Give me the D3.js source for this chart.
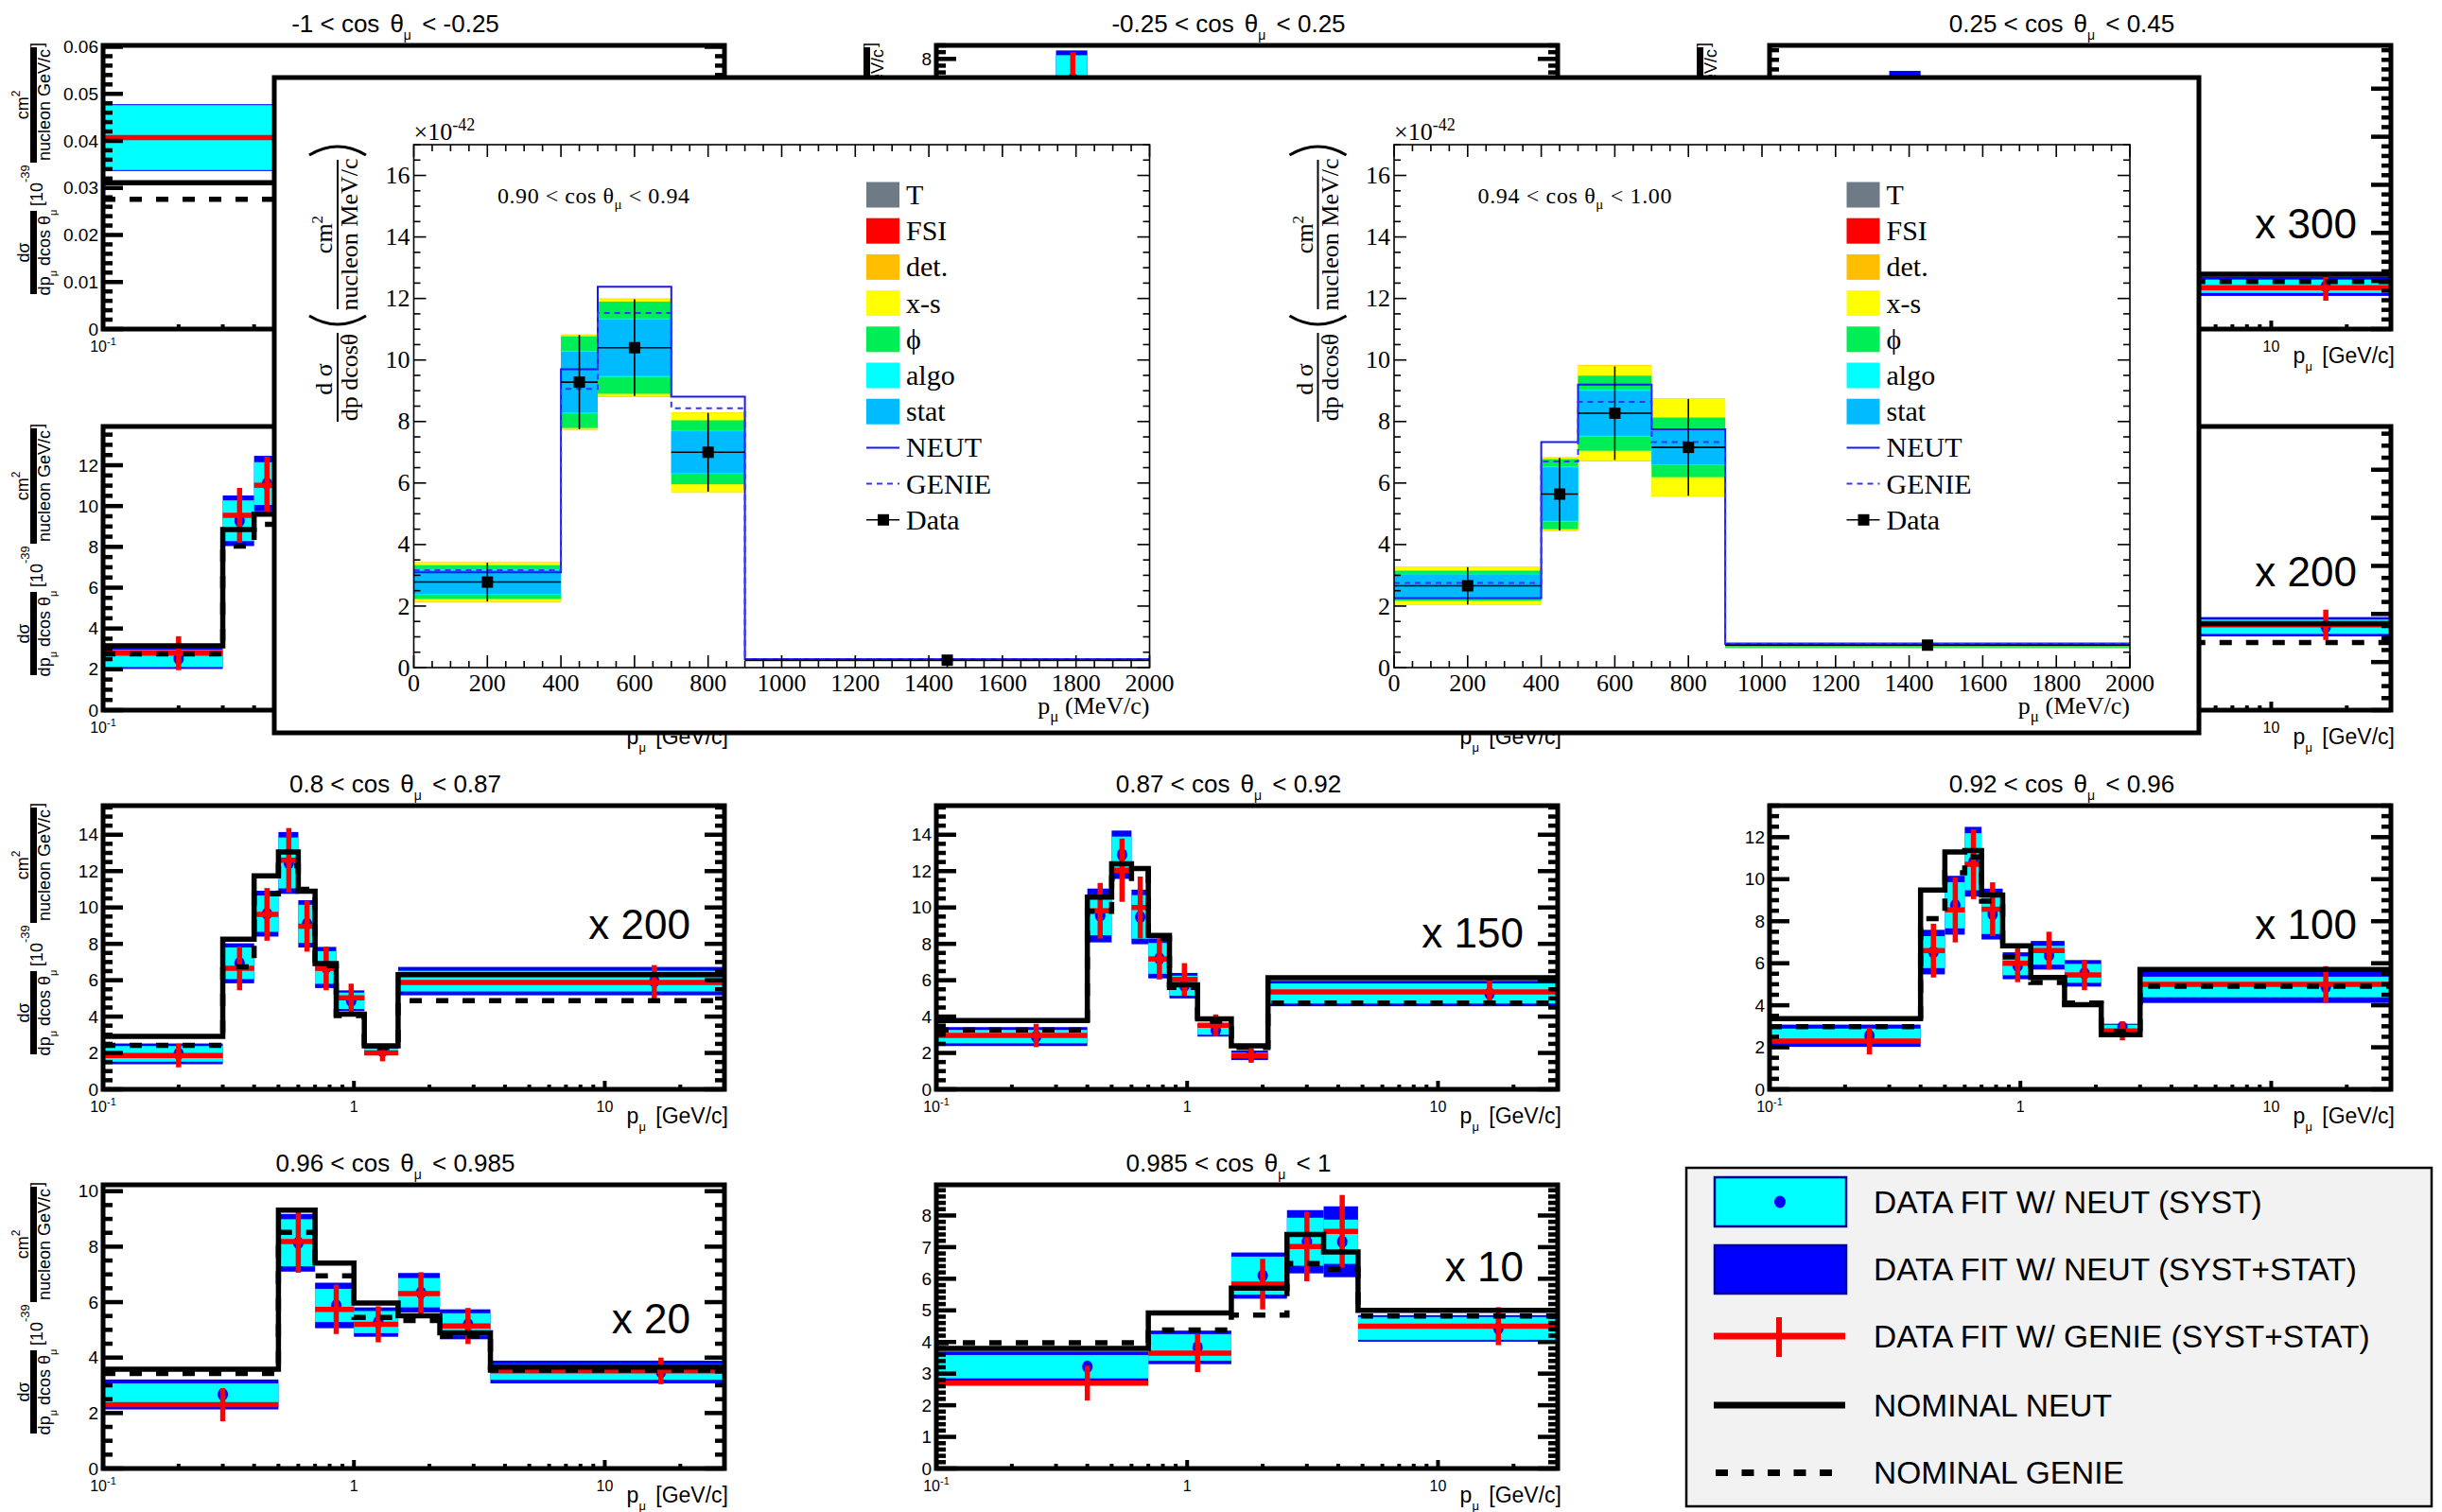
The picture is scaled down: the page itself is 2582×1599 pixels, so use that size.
<!DOCTYPE html>
<html>
<head>
<meta charset="utf-8">
<title>CC0π double-differential cross section</title>
<script src="https://cdn.jsdelivr.net/npm/d3@7"></script>
<style>
  html, body { margin: 0; padding: 0; background: #ffffff; }
  svg { display: block; }
  text { white-space: pre; }
</style>
</head>
<body>
<script>
// ------------------------------------------------------------------
// dσ/dp dcosθ per cos θμ slice, 10^-39 cm^2 / nucleon / (GeV/c),
// already multiplied by the factor printed in each panel.
// Momentum bin edges in GeV/c.
// ------------------------------------------------------------------

// -1 < cos θμ < -0.25
const edgesA = [0.1, 1.0];
const neutA  = [0.0311];
const genieA = [0.0276];
const fitA   = [0.0407];
const systA  = [0.0069];
const totA   = [0.0071];
const gfitA  = [0.0407];
const gerrA  = [0.0075];

// -0.25 < cos θμ < 0.25
const edgesB = [0.3, 0.4];
const neutB  = [null];
const genieB = [null];
const fitB   = [7.4];
const systB  = [0.71];
const totB   = [0.85];
const gfitB  = [7.4];
const gerrB  = [0.8];

// 0.25 < cos θμ < 0.45
const edgesC = [0.3, 0.4, 3.0, 30];
const neutC  = [null, null, 1.14];
const genieC = [null, null, 0.99];
const fitC   = [4.8, null, 0.89];
const systC  = [0.4, null, 0.14];
const totC   = [0.57, null, 0.2];
const gfitC  = [4.7, null, 0.86];
const gerrC  = [0.5, null, 0.27];

// second row, first slice
const edgesD = [0.1, 0.3, 0.4, 0.5];
const neutD  = [3.15, 8.85, 9.6];
const genieD = [2.76, 8.04, 9.1];
const fitD   = [2.53, 9.28, 11.1];
const systD  = [0.42, 1.0, 1.05];
const totD   = [0.51, 1.24, 1.36];
const gfitD  = [2.79, 9.55, 11.02];
const gerrD  = [0.83, 1.34, 1.4];

// second row, middle slice
const edgesE = [], neutE = [], genieE = [], fitE = [], systE = [], totE = [], gfitE = [], gerrE = [];

// second row, last slice
const edgesF = [3.0, 30];
const neutF  = [3.6];
const genieF = [2.81];
const fitF   = [3.47];
const systF  = [0.3];
const totF   = [0.4];
const gfitF  = [3.55];
const gerrF  = [0.63];

// 0.8 < cos θμ < 0.87
const edgesG = [0.1, 0.3, 0.4, 0.5, 0.6, 0.7, 0.85, 1.1, 1.5, 30];
const neutG  = [2.91, 8.26, 11.74, 13.05, 10.9, 6.92, 4.13, 2.39, 6.31];
const genieG = [2.42, 6.74, 10.75, 12.3, 11.0, 6.8, 4.05, 2.3, 4.88];
const fitG   = [1.95, 6.93, 9.66, 12.45, 9.1, 6.7, 4.87, 2.1, 5.95];
const systG  = [0.43, 0.87, 1.0, 1.4, 1.05, 0.9, 0.45, 0.15, 0.57];
const totG   = [0.57, 1.1, 1.26, 1.7, 1.3, 1.13, 0.57, 0.22, 0.78];
const gfitG  = [1.86, 6.65, 9.62, 12.6, 8.97, 6.65, 5.03, 2.0, 5.87];
const gerrG  = [0.65, 1.2, 1.45, 1.77, 1.4, 1.2, 0.78, 0.46, 0.96];

// 0.87 < cos θμ < 0.92
const edgesH = [0.1, 0.4, 0.5, 0.6, 0.7, 0.85, 1.1, 1.5, 2.1, 30];
const neutH  = [3.78, 10.57, 12.4, 12.14, 8.46, 5.75, 3.87, 2.39, 6.13];
const genieH = [3.26, 9.79, 11.6, 12.0, 8.3, 5.6, 3.75, 2.3, 4.74];
const fitH   = [2.9, 9.56, 12.9, 9.48, 7.2, 5.7, 3.25, 1.87, 5.27];
const systH  = [0.37, 1.09, 1.0, 1.2, 0.85, 0.55, 0.25, 0.15, 0.55];
const totH   = [0.52, 1.48, 1.33, 1.5, 1.1, 0.7, 0.35, 0.26, 0.7];
const gfitH  = [2.96, 9.82, 12.05, 10.0, 7.17, 6.04, 3.52, 1.86, 5.35];
const gerrH  = [0.64, 1.53, 1.74, 1.7, 1.13, 0.9, 0.6, 0.4, 0.78];

// 0.92 < cos θμ < 0.96
const edgesI = [0.1, 0.4, 0.5, 0.6, 0.7, 0.85, 1.1, 1.5, 2.1, 3.0, 30];
const neutI  = [3.36, 9.48, 11.29, 11.36, 9.25, 6.83, 5.32, 4.03, 2.6, 5.7];
const genieI = [2.98, 8.12, 10.3, 11.06, 8.95, 6.3, 5.09, 4.11, 2.75, 4.9];
const fitI   = [2.55, 6.53, 8.76, 10.83, 8.34, 5.88, 6.38, 5.52, 2.95, 4.87];
const systI  = [0.34, 0.76, 1.1, 1.36, 0.95, 0.45, 0.45, 0.45, 0.12, 0.49];
const totI   = [0.53, 1.06, 1.4, 1.66, 1.21, 0.64, 0.68, 0.63, 0.17, 0.76];
const gfitI  = [2.3, 6.6, 8.54, 10.71, 8.57, 6.0, 6.6, 5.44, 2.78, 4.99];
const gerrI  = [0.64, 1.28, 1.55, 1.66, 1.28, 0.9, 0.9, 0.72, 0.45, 0.87];

// 0.96 < cos θμ < 0.985
const edgesJ = [0.1, 0.5, 0.7, 1.0, 1.5, 2.2, 3.5, 30];
const neutJ  = [3.58, 9.32, 7.41, 5.97, 5.51, 4.89, 3.66];
const genieJ = [3.43, 8.52, 6.95, 5.45, 5.34, 4.77, 3.55];
const fitJ   = [2.67, 8.14, 5.88, 5.28, 6.34, 5.2, 3.48];
const systJ  = [0.4, 0.85, 0.6, 0.4, 0.53, 0.4, 0.28];
const totJ   = [0.54, 1.04, 0.82, 0.53, 0.71, 0.54, 0.41];
const gfitJ  = [2.3, 8.18, 5.74, 5.2, 6.31, 5.14, 3.52];
const gerrJ  = [0.6, 1.12, 0.89, 0.65, 0.77, 0.65, 0.48];

// 0.985 < cos θμ < 1
const edgesK = [0.1, 0.7, 1.5, 2.5, 3.5, 4.8, 30];
const neutK  = [3.8, 4.92, 5.7, 7.4, 6.85, 5.0];
const genieK = [3.98, 4.38, 4.85, 6.48, 6.3, 4.82];
const fitK   = [3.22, 3.83, 6.1, 7.17, 7.17, 4.43];
const systK  = [0.37, 0.42, 0.6, 0.76, 0.7, 0.36];
const totK   = [0.48, 0.53, 0.73, 1.0, 1.12, 0.42];
const gfitK  = [2.7, 3.65, 5.83, 7.02, 7.5, 4.5];
const gerrK  = [0.55, 0.6, 0.8, 1.1, 1.15, 0.6];

// slice titles (lower, upper cos θμ) and scale factors
const sliceTitles  = [["-1", "-0.25"], ["-0.25", "0.25"], ["0.25", "0.45"], null, null, null,
                      ["0.8", "0.87"], ["0.87", "0.92"], ["0.92", "0.96"], ["0.96", "0.985"], ["0.985", "1"]];
const sliceFactors = [null, null, "x 300", null, null, "x 200", "x 200", "x 150", "x 100", "x 20", "x 10"];
const sliceYMax    = [0.0603, 8.4, 5.9, 13.9, null, 11.8, 15.6, 15.6, 13.5, 10.23, 8.97];
const sliceYMajor  = [0.01, 1, 1, 2, null, 2, 2, 2, 2, 2, 1];
const sliceYDiv    = [5, 5, 5, 4, null, 4, 4, 4, 4, 4, 5];
const sliceYDec    = [2, 0, 0, 0, 0, 0, 0, 0, 0, 0, 0];

// momentum axis (GeV/c)
const pmuRange     = [0.1, 30];
const pmuMinor     = [0.2, 0.3, 0.4, 0.5, 0.6, 0.7, 0.8, 0.9, 2, 3, 4, 5, 6, 7, 8, 9, 20];
const pmuMajor     = [1, 10];
const pmuLabels    = [[0.1, "10", "-1"], [1, "1", ""], [10, "10", ""]];

// ------------------------------------------------------------------
// Inset: alternative analysis, dσ/dp dcosθ in 10^-42 cm^2/nucleon/(MeV/c)
// ------------------------------------------------------------------
const insetEdges = [0, 400, 500, 700, 900, 2000];
const insetPoint = [200, 450, 600, 800, 1450];
const insetXTicks = [0, 200, 400, 600, 800, 1000, 1200, 1400, 1600, 1800, 2000];
const insetYTicks = [0, 2, 4, 6, 8, 10, 12, 14, 16];

// 0.90 < cos θμ < 0.94
const inL_data  = [2.78, 9.28, 10.40, 7.0, 0.24];
const inL_err   = [0.63, 1.53, 1.57, 1.28, 0.05];
const inL_stat  = [0.39, 0.99, 0.92, 0.68, 0.02];
const inL_algo  = [0.41, 1.02, 0.95, 0.7, 0.025];
const inL_phi   = [0.55, 1.49, 1.5, 1.04, 0.03];
const inL_xs    = [0.63, 1.53, 1.58, 1.29, 0.04];
const inL_det   = [0.65, 1.55, 1.6, 1.3, 0.045];
const inL_neut  = [3.10, 9.70, 12.38, 8.81, 0.28];
const inL_genie = [3.17, 9.06, 11.53, 8.43, 0.27];

// 0.94 < cos θμ < 1.00
const inR_data  = [2.66, 5.64, 8.27, 7.16, 0.73];
const inR_err   = [0.61, 1.18, 1.52, 1.57, 0.1];
const inR_stat  = [0.37, 0.87, 0.73, 0.56, 0.04];
const inR_algo  = [0.39, 0.9, 0.76, 0.58, 0.05];
const inR_phi   = [0.49, 1.14, 1.22, 0.97, 0.08];
const inR_xs    = [0.61, 1.18, 1.55, 1.59, 0.09];
const inR_det   = [0.62, 1.2, 1.57, 1.6, 0.1];
const inR_neut  = [2.26, 7.33, 9.2, 7.75, 0.78];
const inR_genie = [2.75, 6.70, 8.64, 7.33, 0.77];

const insetLegend = ["T", "FSI", "det.", "x-s", "\u03d5", "algo", "stat", "NEUT", "GENIE", "Data"];
const mainLegend  = ["DATA FIT W/ NEUT (SYST)", "DATA FIT W/ NEUT (SYST+STAT)",
                     "DATA FIT W/ GENIE (SYST+STAT)", "NOMINAL NEUT", "NOMINAL GENIE"];

// ------------------------------------------------------------------
// styling & layout
// ------------------------------------------------------------------
const SANS  = "'Liberation Sans', Arial, Helvetica, sans-serif";
const SERIF = "'Liberation Serif', 'Times New Roman', Times, serif";
const COL = {
  syst: "#00ffff", tot: "#0000ff", gfit: "#ff0000", nominal: "#000000",
  T: "#6e7b87", FSI: "#ff0000", det: "#ffbf00", xs: "#ffff00", phi: "#00ee55",
  algo: "#00ffff", stat: "#00bbff", neutLine: "#1a1aee", genieLine: "#3535ff"
};
const FW = 657, FH = 300;
const colX = [109, 990, 1871];
const rowY = [48, 451, 852, 1253];
const gridSlots = [[0,0],[0,1],[0,2],[1,0],[1,1],[1,2],[2,0],[2,1],[2,2],[3,0],[3,1]];
const tagDrop = [null, null, 204, null, null, 169, 141, 150, 141, 157, 102];
// overlay box that sits on top of the first two grid rows
const overlay = {x: 290, y: 82, w: 2035, h: 693};
const underOverlay = (px, py) =>
  px > overlay.x - 2 && px < overlay.x + overlay.w + 2 && py > overlay.y - 2 && py < overlay.y + overlay.h + 2;

const svg = d3.select("body").append("svg")
  .attr("width", 2582).attr("height", 1599)
  .attr("xmlns", "http://www.w3.org/2000/svg");
svg.append("rect").attr("width", 2582).attr("height", 1599).attr("fill", "#ffffff");

// text with sub/superscript segments: [string, mode("", "sub", "sup"), dx]
function rich(parent, x, y, segs, o) {
  const t = parent.append("text")
    .attr("x", x).attr("y", y)
    .attr("font-family", o.family).attr("font-size", o.size)
    .attr("text-anchor", o.anchor || "start")
    .attr("fill", o.fill || "#000");
  let shift = 0;
  segs.forEach(([str, mode, dx]) => {
    const target = mode === "sub" ? (o.subDy || 0) : mode === "sup" ? -(o.supDy || 0) : 0;
    const ts = t.append("tspan").text(str);
    if (target - shift !== 0) ts.attr("dy", target - shift);
    if (mode) ts.attr("font-size", o.scriptSize);
    if (dx) ts.attr("dx", dx);
    shift = target;
  });
  if (o.length) t.attr("textLength", o.length).attr("lengthAdjust", "spacing");
  return t;
}

// ------------------------------------------------------------------
// small panels
// ------------------------------------------------------------------
const sliceData = [
  [edgesA, neutA, genieA, fitA, systA, totA, gfitA, gerrA],
  [edgesB, neutB, genieB, fitB, systB, totB, gfitB, gerrB],
  [edgesC, neutC, genieC, fitC, systC, totC, gfitC, gerrC],
  [edgesD, neutD, genieD, fitD, systD, totD, gfitD, gerrD],
  [edgesE, neutE, genieE, fitE, systE, totE, gfitE, gerrE],
  [edgesF, neutF, genieF, fitF, systF, totF, gfitF, gerrF],
  [edgesG, neutG, genieG, fitG, systG, totG, gfitG, gerrG],
  [edgesH, neutH, genieH, fitH, systH, totH, gfitH, gerrH],
  [edgesI, neutI, genieI, fitI, systI, totI, gfitI, gerrI],
  [edgesJ, neutJ, genieJ, fitJ, systJ, totJ, gfitJ, gerrJ],
  [edgesK, neutK, genieK, fitK, systK, totK, gfitK, gerrK]
];

function smallYTitle(g) {
  const yl = g.append("g").attr("transform", "translate(-73.5,263) rotate(-90)");
  const o = {family: SANS, size: 18, anchor: "middle"};
  yl.append("rect").attr("x", 0).attr("y", -3.5).attr("width", 88).attr("height", 7).attr("fill", "#000");
  rich(yl, 44, -5, [["d\u03c3"]], o);
  rich(yl, 44, 17, [["dp"], ["\u03bc", "sub"], [" dcos \u03b8", ""], ["\u03bc", "sub"]],
       {...o, scriptSize: 11, subDy: 7});
  rich(yl, 93, 9, [["[10"], ["-39", "sup"]], {family: SANS, size: 18, scriptSize: 13, supDy: 14});
  yl.append("rect").attr("x", 139).attr("y", -3.5).attr("width", 122).attr("height", 7).attr("fill", "#000");
  rich(yl, 200, -6, [["cm"], ["2", "sup"]], {...o, scriptSize: 12, supDy: 9});
  rich(yl, 200, 17, [["nucleon GeV/c"]], o);
  rich(yl, 261, 9, [["]"]], {family: SANS, size: 18});
}

function drawSmall(k) {
  const [row, col] = gridSlots[k];
  const L = colX[col], T = rowY[row];
  const [edges, neut, genie, fit, syst, tot, gfit, gerr] = sliceData[k];
  const ymax = sliceYMax[k];
  const g = svg.append("g").attr("transform", `translate(${L},${T})`);
  const x = d3.scaleLog().domain(pmuRange).range([0, FW]);
  const y = d3.scaleLinear().domain([0, ymax || 1]).range([FH, 0]);
  const shown = (px, py) => !underOverlay(L + px, T + py);

  const bins = edges.slice(0, -1).map((lo, i) => ({lo, hi: edges[i + 1], mid: (lo + edges[i + 1]) / 2, i}));
  const fb = bins.filter(b => fit[b.i] != null);
  const gb = bins.filter(b => gfit[b.i] != null);

  // NEUT-based fit: syst+stat box, syst box, central marker
  g.append("g").selectAll("rect").data(fb).join("rect")
    .attr("x", b => x(b.lo)).attr("width", b => x(b.hi) - x(b.lo))
    .attr("y", b => y(fit[b.i] + tot[b.i]))
    .attr("height", b => y(fit[b.i] - tot[b.i]) - y(fit[b.i] + tot[b.i]))
    .attr("fill", COL.tot);
  g.append("g").selectAll("rect").data(fb).join("rect")
    .attr("x", b => x(b.lo)).attr("width", b => x(b.hi) - x(b.lo))
    .attr("y", b => y(fit[b.i] + syst[b.i]))
    .attr("height", b => y(fit[b.i] - syst[b.i]) - y(fit[b.i] + syst[b.i]))
    .attr("fill", COL.syst);
  g.append("g").selectAll("ellipse").data(fb).join("ellipse")
    .attr("cx", b => x(b.mid)).attr("cy", b => y(fit[b.i]))
    .attr("rx", 5.5).attr("ry", 6.5).attr("fill", COL.tot);

  // GENIE-based fit: crosses
  const cross = g.append("g").attr("stroke", COL.gfit).attr("stroke-width", 5.5);
  cross.selectAll("line.h").data(gb).join("line").attr("class", "h")
    .attr("x1", b => x(b.lo)).attr("x2", b => x(b.hi))
    .attr("y1", b => y(gfit[b.i])).attr("y2", b => y(gfit[b.i]));
  cross.selectAll("line.v").data(gb).join("line").attr("class", "v")
    .attr("x1", b => x(b.mid)).attr("x2", b => x(b.mid))
    .attr("y1", b => y(gfit[b.i] - gerr[b.i])).attr("y2", b => y(gfit[b.i] + gerr[b.i]));

  // nominal predictions as step lines
  const step = d3.line().defined(d => d[1] != null).x(d => x(d[0])).y(d => y(d[1]));
  const pts = v => bins.flatMap(b => [[b.lo, v[b.i]], [b.hi, v[b.i]]]);
  if (bins.length) {
    g.append("path").attr("d", step(pts(neut))).attr("fill", "none")
      .attr("stroke", COL.nominal).attr("stroke-width", 5.5).attr("stroke-linejoin", "miter");
    g.append("path").attr("d", step(pts(genie))).attr("fill", "none")
      .attr("stroke", COL.nominal).attr("stroke-width", 5.5).attr("stroke-dasharray", "13 15");
  }

  // frame
  g.append("rect").attr("width", FW).attr("height", FH)
    .attr("fill", "none").attr("stroke", "#000").attr("stroke-width", 5);

  // y ticks, both sides
  if (ymax != null) {
    const major = sliceYMajor[k], div = sliceYDiv[k];
    const stepV = major / div;
    const n = Math.floor(ymax / stepV + 1e-6);
    const ticks = d3.range(n + 1).map(j => ({v: j * stepV, major: j % div === 0}));
    const tk = g.append("g").attr("stroke", "#000").attr("stroke-width", 4.5);
    tk.selectAll("line.l").data(ticks).join("line").attr("class", "l")
      .attr("x1", 0).attr("x2", t => t.major ? 21 : 10)
      .attr("y1", t => y(t.v)).attr("y2", t => y(t.v));
    tk.selectAll("line.r").data(ticks).join("line").attr("class", "r")
      .attr("x1", FW).attr("x2", t => FW - (t.major ? 21 : 10))
      .attr("y1", t => y(t.v)).attr("y2", t => y(t.v));
    const fmt = d3.format(`.${sliceYDec[k]}f`);
    g.append("g").selectAll("text")
      .data(ticks.filter(t => t.major && shown(-5, y(t.v)))).join("text")
      .attr("x", -5).attr("y", t => y(t.v)).attr("dy", "0.35em")
      .attr("text-anchor", "end").attr("font-family", SANS).attr("font-size", 19)
      .text(t => t.v === 0 ? "0" : fmt(t.v));
    // axis title only where some of it stays uncovered
    if (L - 93 < overlay.x || T < overlay.y) smallYTitle(g);
  }

  // x ticks (log axis)
  const xt = g.append("g").attr("stroke", "#000").attr("stroke-width", 4);
  xt.selectAll("line.mi").data(pmuMinor).join("line").attr("class", "mi")
    .attr("x1", d => x(d)).attr("x2", d => x(d)).attr("y1", FH).attr("y2", FH - 5);
  xt.selectAll("line.ma").data(pmuMajor).join("line").attr("class", "ma")
    .attr("x1", d => x(d)).attr("x2", d => x(d)).attr("y1", FH).attr("y2", FH - 9);
  pmuLabels.filter(([v]) => shown(x(v), FH + 20)).forEach(([v, base, sup]) => {
    const segs = sup ? [[base], [sup, "sup"]] : [[base]];
    rich(g, x(v), FH + 24, segs, {family: SANS, size: 16, anchor: "middle", scriptSize: 11, supDy: 7});
  });
  if (shown(FW + 4, FH + 36)) {
    rich(g, FW + 4, FH + 36, [["p"], ["\u03bc", "sub"], [" [GeV/c]", "", 4]],
         {family: SANS, size: 23, anchor: "end", scriptSize: 13, subDy: 8});
  }

  // slice title
  const tt = sliceTitles[k];
  if (tt) {
    rich(g, 309, -14, [[`${tt[0]} < cos`], ["\u03b8", "", 11], ["\u03bc", "sub"], [` < ${tt[1]}`, "", 4]],
         {family: SANS, size: 26, anchor: "middle", scriptSize: 14, subDy: 8});
  }
  // scale factor
  if (sliceFactors[k]) {
    g.append("text").attr("x", FW - 36).attr("y", tagDrop[k])
      .attr("text-anchor", "end").attr("font-family", SANS).attr("font-size", 44)
      .text(sliceFactors[k]);
  }
}

sliceData.forEach((_, k) => drawSmall(k));

// ------------------------------------------------------------------
// inset with the two forward slices of the alternative analysis
// ------------------------------------------------------------------
svg.append("rect").attr("x", overlay.x).attr("y", overlay.y)
  .attr("width", overlay.w).attr("height", overlay.h)
  .attr("fill", "#ffffff").attr("stroke", "#000").attr("stroke-width", 5);

const IW = 778, IH = 553, ITOP = 153;

function insetYTitle(g) {
  const yl = g.append("g").attr("transform", `translate(-80.5,${446 - ITOP}) rotate(-90)`);
  const o = {family: SERIF, size: 26, anchor: "middle"};
  yl.append("line").attr("x1", 0).attr("x2", 94).attr("stroke", "#000").attr("stroke-width", 2);
  rich(yl, 45, -6, [["d \u03c3"]], o);
  rich(yl, 47, 21, [["dp dcos\u03b8"]], o);
  yl.append("path").attr("d", "M112,-30 Q94,0 112,30").attr("fill", "none")
    .attr("stroke", "#000").attr("stroke-width", 3);
  yl.append("line").attr("x1", 119).attr("x2", 277).attr("stroke", "#000").attr("stroke-width", 2);
  rich(yl, 198, -6, [["cm"], ["2", "sup"]], {...o, scriptSize: 17, supDy: 10});
  rich(yl, 198, 21, [["nucleon MeV/c"]], o);
  yl.append("path").attr("d", "M282,-30 Q300,0 282,30").attr("fill", "none")
    .attr("stroke", "#000").attr("stroke-width", 3);
}

function drawInset(left, title, titleLen, S) {
  const g = svg.append("g").attr("transform", `translate(${left},${ITOP})`);
  const x = d3.scaleLinear().domain([0, 2000]).range([0, IW]);
  const y = d3.scaleLinear().domain([0, 17]).range([IH, 0]);
  const bins = insetEdges.slice(0, -1).map((lo, i) => ({lo, hi: insetEdges[i + 1], i}));

  // systematic bands, outer to inner
  const layers = [["det", S.det], ["xs", S.xs], ["phi", S.phi], ["algo", S.algo], ["stat", S.stat]];
  layers.forEach(([name, hw]) => {
    g.append("g").selectAll("rect").data(bins).join("rect")
      .attr("x", b => x(b.lo)).attr("width", b => x(b.hi) - x(b.lo))
      .attr("y", b => y(S.data[b.i] + hw[b.i]))
      .attr("height", b => y(S.data[b.i] - hw[b.i]) - y(S.data[b.i] + hw[b.i]))
      .attr("fill", COL[name]);
  });

  const step = d3.line().x(d => x(d[0])).y(d => y(d[1]));
  const pts = v => bins.flatMap(b => [[b.lo, v[b.i]], [b.hi, v[b.i]]]);
  g.append("path").attr("d", step(pts(S.neut))).attr("fill", "none")
    .attr("stroke", COL.neutLine).attr("stroke-width", 2);
  g.append("path").attr("d", step(pts(S.genie))).attr("fill", "none")
    .attr("stroke", COL.genieLine).attr("stroke-width", 2).attr("stroke-dasharray", "6 5");

  // data with error bars
  const eb = g.append("g").attr("stroke", "#000").attr("stroke-width", 1.6);
  eb.selectAll("line.h").data(bins).join("line").attr("class", "h")
    .attr("x1", b => x(b.lo)).attr("x2", b => x(b.hi))
    .attr("y1", b => y(S.data[b.i])).attr("y2", b => y(S.data[b.i]));
  eb.selectAll("line.v").data(bins).join("line").attr("class", "v")
    .attr("x1", b => x(insetPoint[b.i])).attr("x2", b => x(insetPoint[b.i]))
    .attr("y1", b => y(S.data[b.i] - S.err[b.i])).attr("y2", b => y(S.data[b.i] + S.err[b.i]));
  g.append("g").selectAll("rect").data(bins).join("rect")
    .attr("x", b => x(insetPoint[b.i]) - 6).attr("y", b => y(S.data[b.i]) - 6)
    .attr("width", 12).attr("height", 12).attr("fill", "#000");

  // frame and ticks on all four sides
  g.append("rect").attr("width", IW).attr("height", IH).attr("fill", "none")
    .attr("stroke", "#000").attr("stroke-width", 1.6);
  const yt = d3.range(0, 17.001, 0.5).map(v => ({v, major: Math.abs(v / 2 - Math.round(v / 2)) < 1e-6}));
  const xtk = d3.range(0, 2000.1, 50).map(v => ({v, major: v % 200 === 0}));
  const tk = g.append("g").attr("stroke", "#000").attr("stroke-width", 1.6);
  tk.selectAll("line.yl").data(yt).join("line").attr("class", "yl")
    .attr("x1", 0).attr("x2", t => t.major ? 13 : 7).attr("y1", t => y(t.v)).attr("y2", t => y(t.v));
  tk.selectAll("line.yr").data(yt).join("line").attr("class", "yr")
    .attr("x1", IW).attr("x2", t => IW - (t.major ? 13 : 7)).attr("y1", t => y(t.v)).attr("y2", t => y(t.v));
  tk.selectAll("line.xb").data(xtk).join("line").attr("class", "xb")
    .attr("x1", t => x(t.v)).attr("x2", t => x(t.v)).attr("y1", IH).attr("y2", t => IH - (t.major ? 13 : 7));
  tk.selectAll("line.xt").data(xtk).join("line").attr("class", "xt")
    .attr("x1", t => x(t.v)).attr("x2", t => x(t.v)).attr("y1", 0).attr("y2", t => t.major ? 13 : 7);

  g.append("g").selectAll("text").data(insetYTicks).join("text")
    .attr("x", -4).attr("y", d => y(d)).attr("dy", "0.33em").attr("text-anchor", "end")
    .attr("font-family", SERIF).attr("font-size", 26).text(d => d);
  g.append("g").selectAll("text").data(insetXTicks).join("text")
    .attr("x", d => x(d)).attr("y", IH + 25).attr("text-anchor", "middle")
    .attr("font-family", SERIF).attr("font-size", 26).text(d => d);
  rich(g, IW, IH + 49, [["p"], ["\u03bc", "sub"], [" (MeV/c)"]],
       {family: SERIF, size: 26, anchor: "end", scriptSize: 17, subDy: 8});
  rich(g, 0, -5, [["\u00d710"], ["-42", "sup"]], {family: SERIF, size: 26, scriptSize: 18, supDy: 10});
  insetYTitle(g);

  rich(g, 88.5, 62, [[`${title[0]} < cos \u03b8`], ["\u03bc", "sub"], [` < ${title[1]}`]],
       {family: SERIF, size: 24, scriptSize: 15, subDy: 6, length: titleLen});

  // legend
  const lg = g.append("g").attr("transform", "translate(478.5,53)");
  const boxCols = [COL.T, COL.FSI, COL.det, COL.xs, COL.phi, COL.algo, COL.stat];
  insetLegend.forEach((lab, i) => {
    const cy = i * 38.2;
    if (i < boxCols.length) {
      lg.append("rect").attr("x", 0).attr("y", cy - 13.5).attr("width", 35).attr("height", 27)
        .attr("fill", boxCols[i]);
    } else if (lab === "NEUT") {
      lg.append("line").attr("x1", 0).attr("x2", 35).attr("y1", cy).attr("y2", cy)
        .attr("stroke", COL.neutLine).attr("stroke-width", 2);
    } else if (lab === "GENIE") {
      lg.append("line").attr("x1", 0).attr("x2", 35).attr("y1", cy).attr("y2", cy)
        .attr("stroke", COL.genieLine).attr("stroke-width", 2).attr("stroke-dasharray", "6 5");
    } else {
      lg.append("line").attr("x1", 0).attr("x2", 35).attr("y1", cy).attr("y2", cy)
        .attr("stroke", "#000").attr("stroke-width", 1.6);
      lg.append("rect").attr("x", 12).attr("y", cy - 6).attr("width", 12).attr("height", 12).attr("fill", "#000");
    }
    lg.append("text").attr("x", 42).attr("y", cy + 10).attr("font-family", SERIF)
      .attr("font-size", 30).text(lab);
  });
}

drawInset(437.5, ["0.90", "0.94"], 203, {
  data: inL_data, err: inL_err, stat: inL_stat, algo: inL_algo, phi: inL_phi,
  xs: inL_xs, det: inL_det, neut: inL_neut, genie: inL_genie
});
drawInset(1474, ["0.94", "1.00"], 205, {
  data: inR_data, err: inR_err, stat: inR_stat, algo: inR_algo, phi: inR_phi,
  xs: inR_xs, det: inR_det, neut: inR_neut, genie: inR_genie
});

// ------------------------------------------------------------------
// main legend
// ------------------------------------------------------------------
const lgd = svg.append("g").attr("transform", "translate(1783,1235)");
lgd.append("rect").attr("width", 788).attr("height", 358)
  .attr("fill", "#f2f2f2").attr("stroke", "#000").attr("stroke-width", 2.5);
const rowsY = [36, 107.5, 178, 251, 322.5];
// symbols
lgd.append("rect").attr("x", 30).attr("y", 10).attr("width", 139).attr("height", 52)
  .attr("fill", COL.syst).attr("stroke", "#00008b").attr("stroke-width", 2.5);
lgd.append("ellipse").attr("cx", 99).attr("cy", 36).attr("rx", 6).attr("ry", 6.5).attr("fill", COL.tot);
lgd.append("rect").attr("x", 30).attr("y", 82).attr("width", 139).attr("height", 51)
  .attr("fill", COL.tot).attr("stroke", "#00008b").attr("stroke-width", 2.5);
lgd.append("line").attr("x1", 29).attr("x2", 168).attr("y1", 178).attr("y2", 178)
  .attr("stroke", COL.gfit).attr("stroke-width", 7);
lgd.append("line").attr("x1", 98).attr("x2", 98).attr("y1", 158).attr("y2", 200)
  .attr("stroke", COL.gfit).attr("stroke-width", 6);
lgd.append("line").attr("x1", 29).attr("x2", 168).attr("y1", 251).attr("y2", 251)
  .attr("stroke", "#000").attr("stroke-width", 7);
lgd.append("line").attr("x1", 31).attr("x2", 157).attr("y1", 322.5).attr("y2", 322.5)
  .attr("stroke", "#000").attr("stroke-width", 7).attr("stroke-dasharray", "13 14.5");
lgd.selectAll("text.lab").data(mainLegend).join("text").attr("class", "lab")
  .attr("x", 198).attr("y", (d, i) => rowsY[i] + 11.5)
  .attr("font-family", SANS).attr("font-size", 33.5).text(d => d);
</script>
</body>
</html>
